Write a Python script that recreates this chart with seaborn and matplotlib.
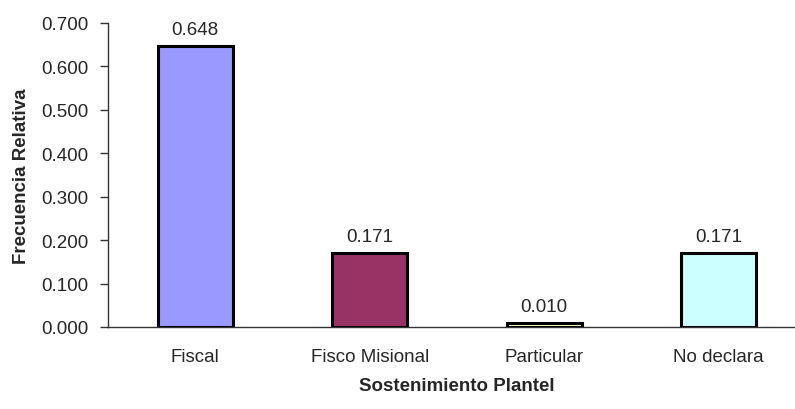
import numpy as np
import pandas as pd
import matplotlib
matplotlib.use("Agg")
import matplotlib.pyplot as plt
import seaborn as sns

categorias = ["Fiscal", "Fisco Misional", "Particular", "No declara"]
frecuencia = [0.648, 0.171, 0.010, 0.171]
colores = ["#9999FF", "#993366", "#FFFFCC", "#CCFFFF"]

sns.set_style("white")
plt.rcParams['font.family'] = ['Liberation Sans', 'DejaVu Sans']

df = pd.DataFrame({"cat": categorias, "val": frecuencia})

fig = plt.figure(figsize=(7.95, 4.1), dpi=100)
ax = fig.add_axes([108 / 795, 82 / 410, 698 / 795, 304 / 410])

sns.barplot(data=df, x="cat", y="val", hue="cat", palette=colores, legend=False,
            width=0.43, edgecolor="black", linewidth=2.2, saturation=1, ax=ax)

fs = 13.5
for i, v in enumerate(frecuencia):
    ax.text(i, v + 0.018, f"{v:.3f}", ha="center", va="bottom", fontsize=fs)

ax.set_xlim(-0.5, 3.5)
ax.set_ylim(0, 0.7)
ax.set_yticks(np.arange(0, 0.71, 0.1))
ax.set_yticklabels([f"{t:.3f}" for t in np.arange(0, 0.71, 0.1)], fontsize=fs)
ax.set_xticks(range(4))
ax.set_xticklabels(categorias, fontsize=fs)
ax.set_xticks([0.5, 1.5, 2.5], minor=True)
ax.tick_params(axis="x", which="major", length=0, pad=15)
ax.tick_params(axis="x", which="minor", length=6, width=1, color="#333333", direction="out")
ax.tick_params(axis="y", length=6, width=1, color="#333333", direction="out", pad=8, left=True)

for s in ["top", "right"]:
    ax.spines[s].set_visible(False)
for s in ["left", "bottom"]:
    ax.spines[s].set_color("#333333")
    ax.spines[s].set_linewidth(1)

ax.set_xlabel("Sostenimiento Plantel", fontsize=fs, fontweight="bold", labelpad=9)
ax.set_ylabel("Frecuencia Relativa", fontsize=fs, fontweight="bold", labelpad=8)

fig.savefig("out.png", dpi=100)
